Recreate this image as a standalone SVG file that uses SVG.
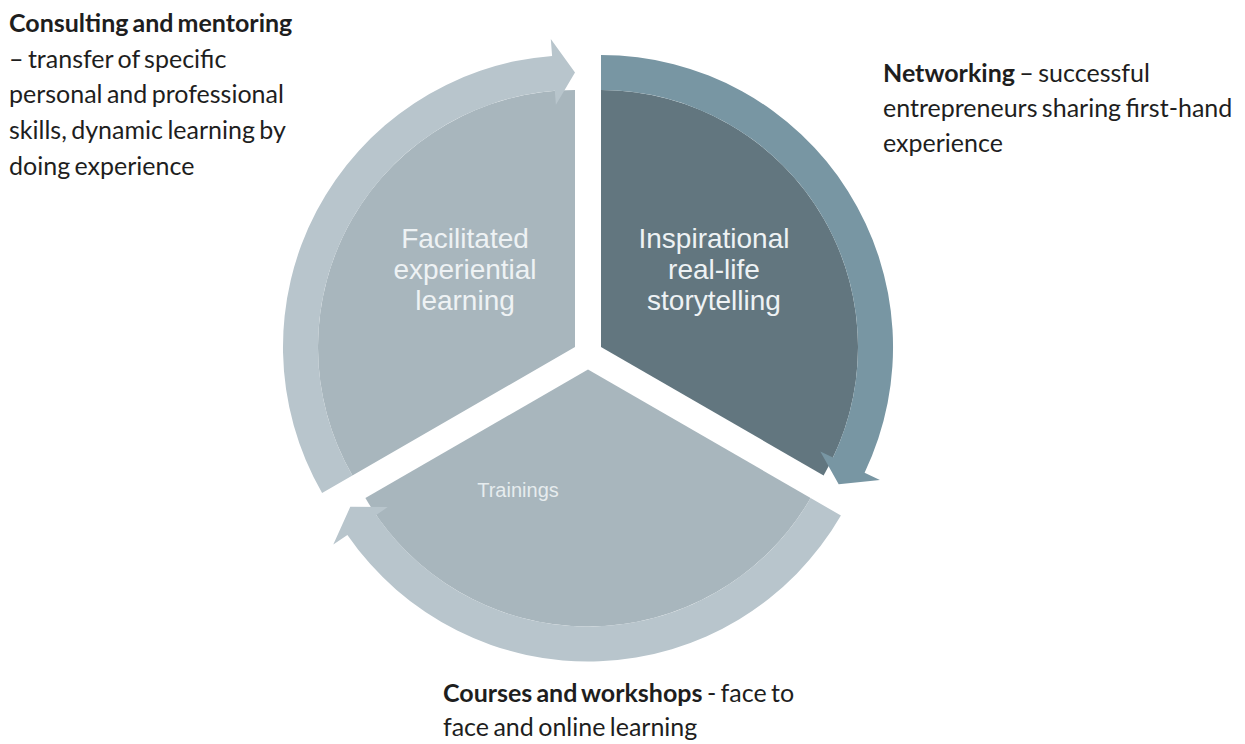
<svg xmlns="http://www.w3.org/2000/svg" width="1245" height="744" viewBox="0 0 1245 744">
  <style>
    .pie-light { fill: #a8b6bd; }
    .pie-dark { fill: #62767f; }
    .band-light { fill: #b8c5cc; }
    .band-dark { fill: #7896a3; }
    .seg-label { font-family: "Liberation Sans", Arial, sans-serif; font-size: 28px; text-anchor: middle; fill: #eef2f4; }
    .seg-small { font-family: "Liberation Sans", Arial, sans-serif; font-size: 20px; text-anchor: middle; fill: #e6ecee; }
    .note { font-family: Lato, "Open Sans", sans-serif; font-size: 25px; fill: #1e1e1e; word-spacing: -2px; }
    .note .b { font-weight: bold; }
  </style>
  <rect width="1245" height="744" fill="#ffffff"/>

  <!-- left segment: centre (575,347), 150deg..270deg -->
  <g id="facilitated">
    <path class="pie-light" d="M575,347 L352.4,475.5 A257,257 0 0 1 575,90 Z"/>
    <text class="seg-label" x="465" y="248">Facilitated</text>
    <text class="seg-label" x="465" y="279">experiential</text>
    <text class="seg-label" x="465" y="310">learning</text>
  </g>

  <!-- right segment: centre (601,347), 270deg..30deg -->
  <g id="inspirational">
    <path class="pie-dark" d="M601,347 L601,90 A257,257 0 0 1 823.6,475.5 Z"/>
    <text class="seg-label" x="714" y="248">Inspirational</text>
    <text class="seg-label" x="714" y="279">real-life</text>
    <text class="seg-label" x="714" y="310">storytelling</text>
  </g>

  <!-- bottom segment: centre (588,369.5), 30deg..150deg -->
  <g id="trainings">
    <path class="pie-light" d="M588,369.5 L810.6,498 A257,257 0 0 1 365.4,498 Z"/>
    <text class="seg-small" x="518" y="497">Trainings</text>
  </g>

  <!-- circular arrows running clockwise round each segment -->
  <g id="connectors">
    <path class="band-light" d="M322.1,493 A292,292 0 0 1 552.1,55.9 L550.8,39 L575,72.5 L555.9,104.8 L554.8,90.8 A257,257 0 0 0 352.4,475.5 Z"/>
    <path class="band-dark" d="M601,55 A292,292 0 0 1 864.6,472.7 L879.9,480 L838.7,484.3 L820.3,451.6 L833,457.6 A257,257 0 0 0 601,90 Z"/>
    <path class="band-light" d="M840.9,515.5 A292,292 0 0 1 347.4,534.9 L333.3,544.5 L350.3,506.8 L387.7,507.1 L376.2,515.1 A257,257 0 0 0 810.6,498 Z"/>
  </g>

  <g id="note-consulting" class="note">
    <text x="9" y="32"><tspan class="b">Consulting and mentoring</tspan></text>
    <text x="9" y="67.7">– transfer of specific</text>
    <text x="9" y="103.4">personal and professional</text>
    <text x="9" y="139.1">skills, dynamic learning by</text>
    <text x="9" y="174.8">doing experience</text>
  </g>

  <g id="note-networking" class="note">
    <text x="883" y="82"><tspan class="b">Networking</tspan> – successful</text>
    <text x="883" y="117">entrepreneurs sharing first-hand</text>
    <text x="883" y="152">experience</text>
  </g>

  <g id="note-courses" class="note">
    <text x="443" y="702"><tspan class="b">Courses and workshops</tspan> - face to</text>
    <text x="443" y="736">face and online learning</text>
  </g>
</svg>
